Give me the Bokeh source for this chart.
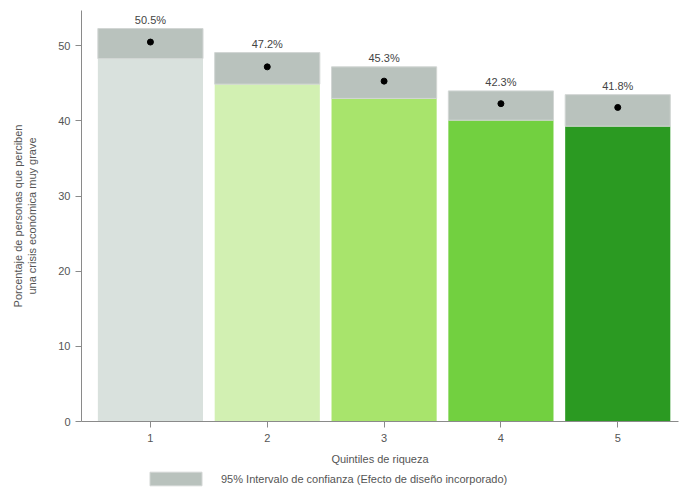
from bokeh.plotting import figure
from bokeh.layouts import column
from bokeh.models import Range1d, FixedTicker, Legend, LegendItem, ColumnDataSource
from bokeh.core.properties import value
from bokeh.embed import file_html
from bokeh.resources import INLINE

quintiles = ["1", "2", "3", "4", "5"]
x_pos = [1, 2, 3, 4, 5]
values = [50.5, 47.2, 45.3, 42.3, 41.8]
ci_low = [48.3, 44.9, 43.0, 40.1, 39.3]
ci_high = [52.3, 49.1, 47.2, 44.0, 43.5]
bar_colors = ["#d9e1dd", "#d2f0b2", "#a8e46c", "#72d040", "#2b9a22"]
labels = [f"{v:.1f}%" for v in values]
legend_label = "95% Intervalo de confianza (Efecto de diseño incorporado)"
CI_COLOR = "#b9c2bd"

src = ColumnDataSource(dict(x=x_pos, v=values, lo=ci_low, hi=ci_high,
                            c=bar_colors, lab=labels))

FONT = "Liberation Sans"
p = figure(width=681, height=467, output_backend="svg", toolbar_location=None,
           x_range=Range1d(0.41, 5.52), y_range=Range1d(0, 54.7),
           min_border_left=81, min_border_top=10, min_border_right=3, min_border_bottom=46)
p.outline_line_color = None
p.xgrid.visible = False
p.ygrid.visible = False
p.background_fill_color = "white"

p.vbar(x="x", width=0.9, bottom=0, top="lo", fill_color="c", line_color=None, source=src)
p.vbar(x="x", width=0.9, bottom="lo", top="hi", fill_color=CI_COLOR,
       line_color="#d2d6d4", line_width=1, source=src)
p.scatter(x="x", y="v", size=6, color="black", source=src)
p.text(x="x", y="hi", text="lab", text_align="center", text_baseline="bottom",
       y_offset=-3, text_font=value(FONT), text_font_size="11px",
       text_color="#444444", source=src)

for ax in (p.xaxis[0], p.yaxis[0]):
    ax.axis_line_color = "#8a8a8a"
    ax.major_tick_line_color = "#8a8a8a"
    ax.major_tick_in = 0
    ax.major_tick_out = 6
    ax.minor_tick_line_color = None
    ax.major_label_text_font = FONT
    ax.major_label_text_font_size = "11px"
    ax.major_label_text_color = "#555555"
    ax.axis_label_text_font = FONT
    ax.axis_label_text_font_size = "11px"
    ax.axis_label_text_font_style = "normal"
    ax.axis_label_text_color = "#555555"

p.xaxis.ticker = FixedTicker(ticks=x_pos)
p.xaxis.major_label_overrides = {x: q for x, q in zip(x_pos, quintiles)}
p.xaxis.axis_label = "Quintiles de riqueza"
p.xaxis.axis_label_standoff = 8
p.xaxis.major_label_standoff = 6

p.yaxis.ticker = FixedTicker(ticks=[0, 10, 20, 30, 40, 50])
p.yaxis.axis_label = "Porcentaje de personas que perciben\nuna crisis económica muy grave"
p.yaxis.axis_label_standoff = 17
p.yaxis.major_label_standoff = 5

# legend strip below the chart (proxy renderer lies outside its visible range)
lg = figure(width=681, height=22, output_backend="svg", toolbar_location=None,
            x_axis_type=None, y_axis_type=None,
            x_range=Range1d(100, 101), y_range=Range1d(100, 101),
            min_border=0)
lg.grid.visible = False
lg.outline_line_color = None
proxy = lg.vbar(x="x", bottom="lo", top="hi", width=0.9, fill_color=CI_COLOR,
                line_color="#d2d6d4", source=src)
legend = Legend(items=[LegendItem(label=legend_label, renderers=[proxy])],
                orientation="horizontal", location=(62, 2),
                glyph_width=65, glyph_height=17, padding=0, margin=0, spacing=0,
                label_text_font=FONT, label_text_font_size="11px",
                label_height=17,
                label_text_color="#555555", border_line_color=None,
                background_fill_alpha=0, label_standoff=13)
lg.add_layout(legend, "center")

layout = column(p, lg, spacing=0)
open("out.html", "w").write(file_html(layout, INLINE))
